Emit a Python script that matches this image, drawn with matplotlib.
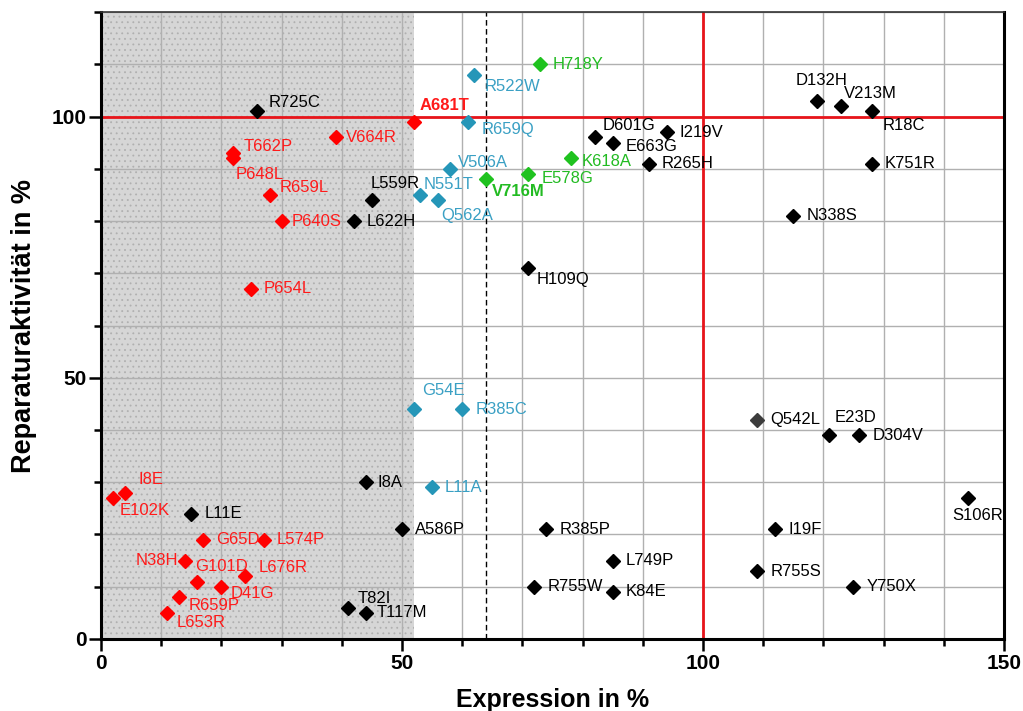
import matplotlib
matplotlib.use("Agg")
import matplotlib.pyplot as plt
from matplotlib.ticker import MultipleLocator

plt.rcParams['font.family'] = ['Liberation Sans', 'DejaVu Sans']
plt.rcParams['hatch.linewidth'] = 0.6

# Variants: name, expression (%), repair activity (%), group
names = ["R725C", "A681T", "V664R", "T662P", "P648L", "R659L", "P640S", "L559R",
         "L622H", "P654L", "R522W", "H718Y", "R659Q", "V506A", "N551T", "Q562A",
         "V716M", "E578G", "K618A", "D601G", "E663G", "I219V", "R265H", "H109Q",
         "D132H", "V213M", "R18C", "K751R", "N338S", "G54E", "R385C", "L11A",
         "Q542L", "E23D", "D304V", "S106R", "I8A", "A586P", "R385P", "I19F",
         "L749P", "R755S", "R755W", "K84E", "Y750X", "T82I", "T117M", "I8E",
         "E102K", "L11E", "G65D", "L574P", "N38H", "G101D", "D41G", "L676R",
         "R659P", "L653R"]
expression = [26, 52, 39, 22, 22, 28, 30, 45,
              42, 25, 62, 73, 61, 58, 53, 56,
              64, 71, 78, 82, 85, 94, 91, 71,
              119, 123, 128, 128, 115, 52, 60, 55,
              109, 121, 126, 144, 44, 50, 74, 112,
              85, 109, 72, 85, 125, 41, 44, 4,
              2, 15, 17, 27, 14, 16, 20, 24,
              13, 11]
activity = [101, 99, 96, 93, 92, 85, 80, 84,
            80, 67, 108, 110, 99, 90, 85, 84,
            88, 89, 92, 96, 95, 97, 91, 71,
            103, 102, 101, 91, 81, 44, 44, 29,
            42, 39, 39, 27, 30, 21, 21, 21,
            15, 13, 10, 9, 10, 6, 5, 28,
            27, 24, 19, 19, 15, 11, 10, 12,
            8, 5]
groups = ["k", "r", "r", "r", "r", "r", "r", "k",
          "k", "r", "b", "g", "b", "b", "b", "b",
          "g", "g", "g", "k", "k", "k", "k", "k",
          "k", "k", "k", "k", "k", "b", "b", "b",
          "q", "k", "k", "k", "k", "k", "k", "k",
          "k", "k", "k", "k", "k", "k", "k", "r",
          "r", "k", "r", "r", "r", "r", "r", "r",
          "r", "r"]
bold_names = ["A681T", "V716M"]

marker_colors = {"k": "#000000", "r": "#ff0000", "b": "#2596b8", "g": "#1fc21f", "q": "#3c3c3c"}
text_colors = {"k": "#000000", "r": "#ff1a1a", "b": "#3aa0c4", "g": "#22bb22", "q": "#000000"}

# Label placement (offset in pixels, horizontal alignment)
label_pos = {
    "R725C": (11, 9, "left"), "A681T": (6, 16, "left"), "V664R": (10, 0, "left"),
    "T662P": (10, 7, "left"), "P648L": (2, -16, "left"), "R659L": (10, 7, "left"),
    "P640S": (10, 0, "left"), "L559R": (-1, 17, "left"), "L622H": (13, 0, "left"),
    "P654L": (12, 0, "left"), "R522W": (10, -12, "left"), "H718Y": (12, 0, "left"),
    "R659Q": (13, -8, "left"), "V506A": (8, 6, "left"), "N551T": (4, 10, "left"),
    "Q562A": (3, -15, "left"), "V716M": (6, -12, "left"), "E578G": (13, -4, "left"),
    "K618A": (11, -3, "left"), "D601G": (8, 12, "left"), "E663G": (13, -4, "left"),
    "I219V": (13, 0, "left"), "R265H": (13, 0, "left"), "H109Q": (8, -11, "left"),
    "D132H": (-22, 20, "left"), "V213M": (2, 13, "left"), "R18C": (11, -14, "left"),
    "K751R": (13, 0, "left"), "N338S": (13, 0, "left"), "G54E": (8, 19, "left"),
    "R385C": (13, 0, "left"), "L11A": (13, 0, "left"), "Q542L": (13, 0, "left"),
    "E23D": (5, 18, "left"), "D304V": (13, 0, "left"), "S106R": (10, -18, "center"),
    "I8A": (12, 0, "left"), "A586P": (13, 0, "left"), "R385P": (13, 0, "left"),
    "I19F": (13, 0, "left"), "L749P": (13, 0, "left"), "R755S": (13, 0, "left"),
    "R755W": (13, 0, "left"), "K84E": (13, 0, "left"), "Y750X": (13, 0, "left"),
    "T82I": (10, 9, "left"), "T117M": (11, 0, "left"), "I8E": (13, 13, "left"),
    "E102K": (7, -13, "left"), "L11E": (13, 0, "left"), "G65D": (13, 0, "left"),
    "L574P": (13, 0, "left"), "N38H": (-7, 0, "right"), "G101D": (-2, 15, "left"),
    "D41G": (9, -7, "left"), "L676R": (13, 9, "left"), "R659P": (9, -8, "left"),
    "L653R": (9, -10, "left"),
}

fig = plt.figure(figsize=(10.23, 7.11), dpi=100)
ax = fig.add_axes([0.0987, 0.1013, 0.8827, 0.8817])

ax.set_xlim(0, 150)
ax.set_ylim(0, 120)

# Shaded low-expression region with a fine dot texture
ax.axvspan(0, 52, facecolor="#d6d6d6", edgecolor="#b0b0b0", hatch="...", lw=0, zorder=0)

ax.set_axisbelow(True)
ax.xaxis.set_major_locator(MultipleLocator(50))
ax.xaxis.set_minor_locator(MultipleLocator(10))
ax.yaxis.set_major_locator(MultipleLocator(50))
ax.yaxis.set_minor_locator(MultipleLocator(10))
ax.grid(True, which="both", color="#b0b0b0", lw=1.0)

ax.axvline(64, color="black", lw=1.0, ls=(0, (4, 2.5)), zorder=1)
ax.axvline(100, color="#e8141a", lw=2.0, zorder=1.5)
ax.axhline(100, color="#e8141a", lw=2.0, zorder=1.5)

for name, xv, yv, g in zip(names, expression, activity, groups):
    ax.plot([xv], [yv], ls="none", marker="D", ms=7.3, color=marker_colors[g],
            mec=marker_colors[g], zorder=3)
    dx, dy, ha = label_pos[name]
    ax.annotate(name, (xv, yv), xytext=(dx, dy), textcoords="offset pixels",
                ha=ha, va="center", fontsize=12, color=text_colors[g],
                fontweight="bold" if name in bold_names else "normal", zorder=4)

for side in ("left", "bottom", "right"):
    ax.spines[side].set_linewidth(2.2)
    ax.spines[side].set_color("black")
ax.spines["top"].set_linewidth(1.2)
ax.spines["top"].set_color("#333333")

ax.tick_params(which="major", direction="out", length=8.5, width=1.8, labelsize=15, pad=2)
ax.tick_params(which="minor", direction="out", length=5, width=1.8)
ax.tick_params(top=False, right=False, which="both")
for lab in ax.get_xticklabels() + ax.get_yticklabels():
    lab.set_fontweight("bold")

ax.set_xlabel("Expression in %", fontsize=18, fontweight="bold", labelpad=11)
ax.set_ylabel("Reparaturaktivität in %", fontsize=19.5, fontweight="bold", labelpad=10)

fig.savefig("out.png", dpi=100)
